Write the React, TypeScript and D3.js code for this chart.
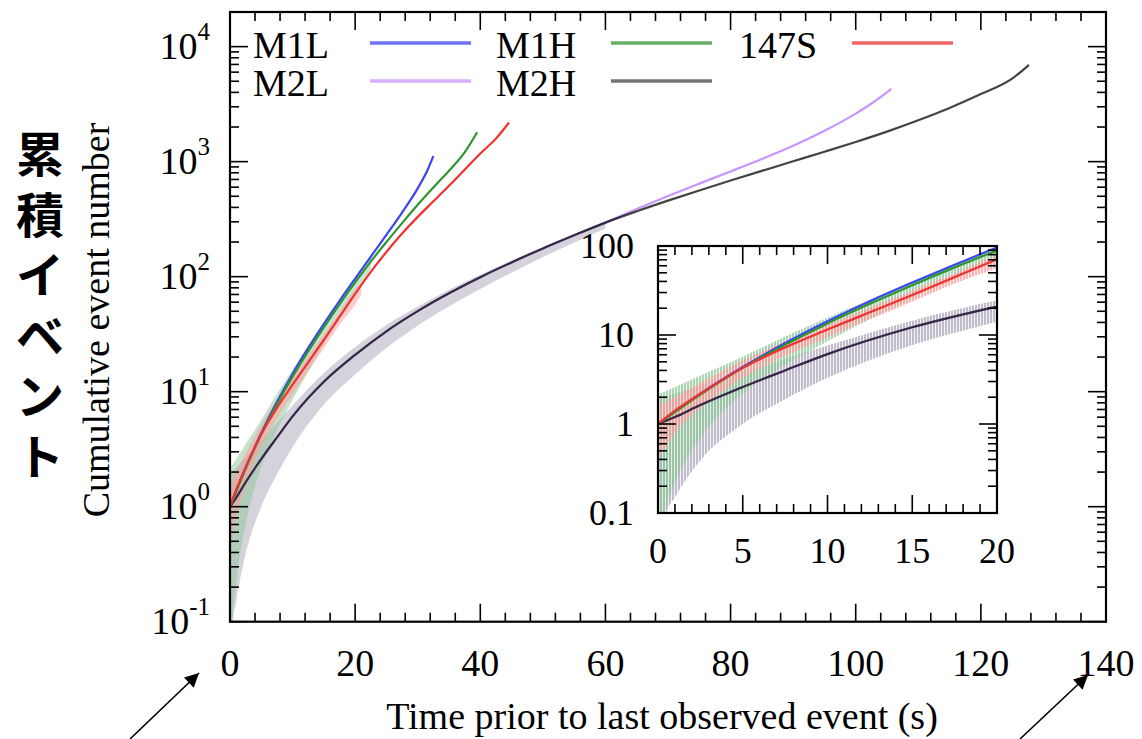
import React from 'react';
import * as d3 from 'd3';

const WIDTH = 1142;
const HEIGHT = 739;

// Axis ticks
const xTicks = [0, 20, 40, 60, 80, 100, 120, 140];
const yTickExponents = [-1, 0, 1, 2, 3, 4];
const insetXTicks = [0, 5, 10, 15, 20];
const insetYTicks = [0.1, 1, 10, 100];
const insetYLabels = ['0.1', '1', '10', '100'];

// Cumulative event number vs. time prior to last observed event (s)
const m1lTime = [0, 1, 2.5, 5, 7.5, 10, 12.5, 15, 17.5, 20, 22.5, 25, 27.5, 30, 31.5, 32.5];
const m1lCount = [1, 1.38, 2.19, 4.37, 8.13, 14.3, 24, 38.9, 61.7, 96.2, 149, 231, 361, 586, 828, 1117];

const m1hTime = [0, 1, 2.5, 5, 7.5, 10, 12.5, 15, 17.5, 20, 22.5, 25, 27.5, 30, 32.5, 35, 37.5, 39.5];
const m1hCount = [1, 1.36, 2.14, 4.27, 7.76, 13.5, 22.4, 36.3, 57.5, 89.1, 135, 200, 292, 422, 596, 832, 1202, 1799];

const s147Time = [0, 1, 2.5, 5, 7.5, 10, 12.5, 15, 17.5, 20, 22.5, 25, 27.5, 30, 32.5, 35, 37.5, 40, 42.5, 44.6];
const s147Count = [1, 1.41, 2.19, 4.27, 7.24, 11.5, 18, 28.2, 44.7, 70.8, 110, 164, 237, 331, 452, 617, 851, 1175, 1585, 2188];

const m2lTime = [0, 1, 2.5, 5, 7.5, 10, 15, 20, 25, 30, 35, 40, 45, 50, 55, 60, 65, 70, 75, 80, 85, 90, 95, 100, 103, 105.7];
const m2lCount = [1, 1.2, 1.63, 2.6, 4.0, 6.1, 12.2, 20.9, 33.5, 50.1, 71.6, 98.9, 133, 176, 229, 295, 387, 502, 644, 822, 1054, 1374, 1854, 2618, 3334, 4295];

const m2hTime = [0, 1, 2.5, 5, 7.5, 10, 15, 20, 25, 30, 35, 40, 45, 50, 55, 60, 65, 70, 75, 80, 85, 90, 95, 100, 105, 110, 115, 120, 125, 127.7];
const m2hCount = [1, 1.2, 1.63, 2.6, 4.0, 6.1, 12.2, 20.9, 33.5, 50.1, 71.6, 98.9, 133, 176, 229, 295, 370, 458, 562, 685, 832, 1007, 1219, 1483, 1824, 2286, 2931, 3864, 5272, 6950];

// Uncertainty bands
const m2BandTime = [0, 0.5, 1, 2.5, 5, 7.5, 10, 15, 20, 25, 30, 35, 40, 45, 50, 55, 60];
const m2BandLow = [0.02, 0.1, 0.15, 0.39, 1.0, 1.9, 3.3, 7.7, 14.1, 24, 37.5, 55, 78, 108, 148, 198, 262];
const m2BandHigh = [2.0, 2.05, 2.2, 2.7, 3.8, 5.4, 7.6, 14.5, 24.5, 38, 55, 77, 104, 138, 180, 232, 298];

const m1BandTime = [0, 0.5, 1, 2.5, 5, 7.5, 10, 12.5, 15, 17.5, 20, 22.5];
const m1BandLow = [0.05, 0.12, 0.22, 0.7, 2.2, 4.6, 8.5, 15, 26, 43, 72, 116];
const m1BandHigh = [2.2, 2.35, 2.6, 3.5, 5.7, 9.6, 15.6, 25, 40, 62, 97, 146];

const s147BandTime = [0, 1, 2.5, 5, 7.5, 10, 12.5, 15, 17.5, 20, 21];
const s147BandLow = [0.4, 0.8, 1.5, 3.3, 5.8, 9.4, 15, 23.8, 38, 57, 70];
const s147BandHigh = [1.6, 2.0, 2.9, 5.2, 8.5, 13.2, 20.5, 31.5, 49, 78, 88];

const SERIF = "'Liberation Serif', 'Times New Roman', serif";
const CJK = "'Noto Sans CJK JP', sans-serif";

type Pt = [number, number];
const zip = (t: number[], v: number[]): Pt[] => t.map((d, i) => [d, v[i]]);

const series = [
  { name: 'M1L', color: '#3c46f0', pts: zip(m1lTime, m1lCount), blend: 'normal' },
  { name: 'M1H', color: '#2f962f', pts: zip(m1hTime, m1hCount), blend: 'normal' },
  { name: '147S', color: '#f03232', pts: zip(s147Time, s147Count), blend: 'normal' },
  { name: 'M2L', color: '#c896ff', pts: zip(m2lTime, m2lCount), blend: 'multiply' },
  { name: 'M2H', color: '#444444', pts: zip(m2hTime, m2hCount), blend: 'normal' },
];
const drawOrder = ['M2H', 'M2L', 'M1L', 'M1H', '147S'];

const bands = [
  { id: 'm2', color: '#aaa6b8', t: m2BandTime, lo: m2BandLow, hi: m2BandHigh },
  { id: 'm1', color: '#8fc79a', t: m1BandTime, lo: m1BandLow, hi: m1BandHigh },
  { id: 's147', color: '#ff9a9a', t: s147BandTime, lo: s147BandLow, hi: s147BandHigh },
];

const legendRows = [['M1L', 'M1H', '147S'], ['M2L', 'M2H']];

const main = { left: 230, right: 1106, top: 12, bottom: 621.7 };
const inset = { left: 658, right: 997, top: 246, bottom: 513 };

function logMinor(lo: number, hi: number): number[] {
  const out: number[] = [];
  for (let e = Math.floor(Math.log10(lo)); e <= Math.ceil(Math.log10(hi)); e++) {
    for (let k = 2; k <= 9; k++) {
      const v = k * Math.pow(10, e);
      if (v >= lo * 0.999 && v <= hi * 1.001) out.push(v);
    }
  }
  return out;
}

function Panel({ box, xDomain, yDomain, xMajor, xMinorStep, clipId, striped, bandOpacity }: any) {
  const x = d3.scaleLinear().domain(xDomain).range([box.left, box.right]);
  const y = d3.scaleLog().domain(yDomain).range([box.bottom, box.top]);
  const line = d3.line<Pt>().x(d => x(d[0])).y(d => y(d[1])).curve(d3.curveMonotoneX);
  const area = d3
    .area<[number, number, number]>()
    .x(d => x(d[0]))
    .y0(d => y(d[1]))
    .y1(d => y(d[2]))
    .curve(d3.curveMonotoneX);
  const xMinor = d3.range(xDomain[0], xDomain[1] + 1e-9, xMinorStep).filter(v => !xMajor.includes(v));
  const yMajor: number[] = [];
  for (let e = Math.round(Math.log10(yDomain[0])); Math.pow(10, e) <= yDomain[1] * 1.001; e++) yMajor.push(Math.pow(10, e));
  const yMinor = logMinor(yDomain[0], yDomain[1]);
  const MAJ = 18;
  const MIN = 9;
  const tickStroke = { stroke: '#000', strokeWidth: 1.6 };
  return (
    <g>
      <defs>
        <clipPath id={clipId}>
          <rect x={box.left} y={box.top} width={box.right - box.left} height={box.bottom - box.top} />
        </clipPath>
        {bands.map(b => (
          <pattern key={b.id} id={`${clipId}-${b.id}`} width={3} height={8} patternUnits="userSpaceOnUse">
            <rect width={striped ? 2.2 : 3} height={8} fill={b.color} />
          </pattern>
        ))}
      </defs>
      <rect x={box.left} y={box.top} width={box.right - box.left} height={box.bottom - box.top} fill="#fff" />
      <g clipPath={`url(#${clipId})`}>
        {bands.map(b => (
          <path
            key={b.id}
            d={area(b.t.map((t, i) => [t, b.lo[i], b.hi[i]] as [number, number, number])) || ''}
            fill={`url(#${clipId}-${b.id})`}
            opacity={bandOpacity}
          />
        ))}
        {drawOrder.map(n => {
          const s = series.find(d => d.name === n)!;
          return (
            <path
              key={n}
              d={line(s.pts) || ''}
              fill="none"
              stroke={s.color}
              strokeWidth={2.2}
              style={{ mixBlendMode: s.blend as any }}
            />
          );
        })}
      </g>
      {/* ticks, mirrored on all four sides */}
      {xMajor.map((v: number) => (
        <g key={`xM${v}`} {...tickStroke}>
          <line x1={x(v)} x2={x(v)} y1={box.bottom} y2={box.bottom - MAJ} />
          <line x1={x(v)} x2={x(v)} y1={box.top} y2={box.top + MAJ} />
        </g>
      ))}
      {xMinor.map((v: number) => (
        <g key={`xm${v}`} {...tickStroke}>
          <line x1={x(v)} x2={x(v)} y1={box.bottom} y2={box.bottom - MIN} />
          <line x1={x(v)} x2={x(v)} y1={box.top} y2={box.top + MIN} />
        </g>
      ))}
      {yMajor.map(v => (
        <g key={`yM${v}`} {...tickStroke}>
          <line x1={box.left} x2={box.left + MAJ} y1={y(v)} y2={y(v)} />
          <line x1={box.right} x2={box.right - MAJ} y1={y(v)} y2={y(v)} />
        </g>
      ))}
      {yMinor.map(v => (
        <g key={`ym${v}`} {...tickStroke}>
          <line x1={box.left} x2={box.left + MIN} y1={y(v)} y2={y(v)} />
          <line x1={box.right} x2={box.right - MIN} y1={y(v)} y2={y(v)} />
        </g>
      ))}
      <rect
        x={box.left}
        y={box.top}
        width={box.right - box.left}
        height={box.bottom - box.top}
        fill="none"
        stroke="#000"
        strokeWidth={2.2}
      />
    </g>
  );
}

export default function App() {
  const x = d3.scaleLinear().domain([0, 140]).range([main.left, main.right]);
  const y = d3.scaleLog().domain([0.1, 20000]).range([main.bottom, main.top]);
  const ix = d3.scaleLinear().domain([0, 20]).range([inset.left, inset.right]);
  const iy = d3.scaleLog().domain([0.1, 100]).range([inset.bottom, inset.top]);
  const colorOf = (n: string) => series.find(s => s.name === n)!.color;
  const jp = '累積イベント'.split('');

  return (
    <div style={{ position: 'fixed', left: 0, top: 0 }}>
      <svg width={WIDTH} height={HEIGHT} viewBox={`0 0 ${WIDTH} ${HEIGHT}`} style={{ display: 'block', background: '#fff' }}>
        <defs>
          <marker id="arrowHead" viewBox="0 0 10 10" refX={10} refY={5} markerWidth={18} markerHeight={14} markerUnits="userSpaceOnUse" orient="auto">
            <path d="M0,0 L10,5 L0,10 z" fill="#000" />
          </marker>
        </defs>
        <rect width={WIDTH} height={HEIGHT} fill="#fff" />

        <Panel box={main} xDomain={[0, 140]} yDomain={[0.1, 20000]} xMajor={xTicks} xMinorStep={4} clipId="mainClip" striped={false} bandOpacity={0.5} />

        {/* main tick labels */}
        <g fontFamily={SERIF} fontSize={38} fill="#000">
          {xTicks.map(v => (
            <text key={v} x={x(v)} y={676} textAnchor="middle">{v}</text>
          ))}
          {yTickExponents.map(e => (
            <text key={e} x={210} y={y(Math.pow(10, e)) + 12} textAnchor="end">
              <tspan>10</tspan>
              <tspan fontSize={25} dy={-19}>{e}</tspan>
            </text>
          ))}
        </g>

        {/* legend */}
        <g fontFamily={SERIF} fontSize={38} fill="#000">
          {legendRows.map((row, r) =>
            row.map((n, c) => (
              <g key={n}>
                <text x={253 + c * 243} y={58 + r * 38}>{n}</text>
                <line
                  x1={370 + c * 241}
                  x2={471 + c * 241}
                  y1={43 + r * 38}
                  y2={43 + r * 38}
                  stroke={colorOf(n)}
                  strokeWidth={3.5}
                  opacity={0.75}
                />
              </g>
            ))
          )}
        </g>

        {/* inset */}
        <Panel box={inset} xDomain={[0, 20]} yDomain={[0.1, 100]} xMajor={insetXTicks} xMinorStep={1} clipId="insetClip" striped={true} bandOpacity={0.75} />
        <g fontFamily={SERIF} fontSize={36} fill="#000">
          {insetXTicks.map(v => (
            <text key={v} x={ix(v)} y={563} textAnchor="middle">{v}</text>
          ))}
          {insetYTicks.map((v, i) => (
            <text key={v} x={634} y={iy(v) + 12} textAnchor="end">{insetYLabels[i]}</text>
          ))}
        </g>

        {/* axis titles */}
        <text x={662} y={729} textAnchor="middle" fontFamily={SERIF} fontSize={38} fill="#000">
          Time prior to last observed event (s)
        </text>
        <text
          transform="translate(109,320) rotate(-90)"
          textAnchor="middle"
          fontFamily={SERIF}
          fontSize={38}
          fill="#000"
        >
          Cumulative event number
        </text>
        <text fontFamily={CJK} fontSize={48} fontWeight={700} fill="#000" textAnchor="middle">
          {jp.map((ch, i) => (
            <tspan key={i} x={40} y={172 + i * 60.5}>{ch}</tspan>
          ))}
        </text>

        {/* arrows toward the first and last x tick labels */}
        <line x1={130} y1={739} x2={199} y2={673} stroke="#000" strokeWidth={1.6} markerEnd="url(#arrowHead)" />
        <line x1={1020} y1={739} x2={1088} y2={675} stroke="#000" strokeWidth={1.6} markerEnd="url(#arrowHead)" />
      </svg>
    </div>
  );
}
